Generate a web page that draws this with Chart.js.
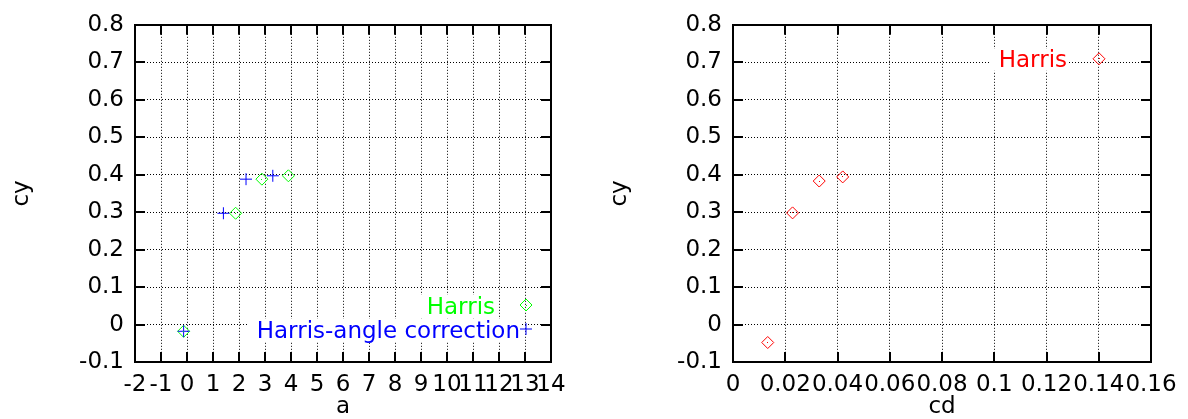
<!DOCTYPE html>
<html>
<head>
<meta charset="utf-8">
<script src="https://cdn.jsdelivr.net/npm/chart.js@4.4.0/dist/chart.umd.min.js"></script>
<style>
  html, body { margin: 0; padding: 0; background: #fff; }
  #wrap { position: relative; width: 1188px; height: 419px; }
  canvas { position: absolute; top: 0; }
  #left { left: 0; }
  #right { left: 594px; }
</style>
</head>
<body>
<div id="wrap">
  <canvas id="left" width="594" height="419"></canvas>
  <canvas id="right" width="594" height="419"></canvas>
</div>
<script>
// Measured points: cy against a (two detectors) and cy against cd
const harrisA     = [-0.13, 1.87, 2.88, 3.90];
const harrisCy    = [-0.018, 0.297, 0.388, 0.397];
const correctedA  = [-0.13, 1.40, 2.27, 3.30];
const correctedCy = [-0.018, 0.297, 0.388, 0.397];
const harrisCd    = [0.0133, 0.0228, 0.0330, 0.0420];
const harrisCdCy  = [-0.048, 0.298, 0.383, 0.394];

// Axis ticks and their printed labels
const aTicks       = [-2, -1, 0, 1, 2, 3, 4, 5, 6, 7, 8, 9, 10, 11, 12, 13, 14];
const aTickLabels  = ['-2', '-1', '0', '1', '2', '3', '4', '5', '6', '7', '8', '9', '10', '11', '12', '13', '14'];
const cyTicks      = [-0.1, 0, 0.1, 0.2, 0.3, 0.4, 0.5, 0.6, 0.7, 0.8];
const cyTickLabels = ['-0.1', '0', '0.1', '0.2', '0.3', '0.4', '0.5', '0.6', '0.7', '0.8'];
const cdTicks      = [0, 0.02, 0.04, 0.06, 0.08, 0.1, 0.12, 0.14, 0.16];
const cdTickLabels = ['0', '0.02', '0.04', '0.06', '0.08', '0.1', '0.12', '0.14', '0.16'];

const GREEN = '#00ff00';
const BLUE = '#0000ff';
const RED = '#ff0000';
const FONT = "'DejaVu Sans', sans-serif";
const FONT_SIZE = 23;
const MARK_R = 6;

Chart.defaults.font.family = FONT;
Chart.defaults.font.size = FONT_SIZE;
Chart.defaults.color = '#000';

function toPoints(xs, ys) {
  return xs.map((x, i) => ({ x: x, y: ys[i] }));
}

// Full box frame, inward tick marks on all four sides, centre dots on
// diamond markers, and an in-plot key with samples to the right of the text.
const framePlugin = {
  id: 'frame',
  afterDatasetsDraw(chart) {
    const ctx = chart.ctx;
    ctx.save();
    chart.data.datasets.forEach((ds, i) => {
      if (ds.pointStyle !== 'rectRot') return;
      const meta = chart.getDatasetMeta(i);
      ctx.fillStyle = ds.borderColor;
      meta.data.forEach(el => {
        ctx.fillRect(Math.floor(el.x), Math.floor(el.y), 1, 1);
      });
    });
    ctx.restore();
  },
  afterDraw(chart, args, opts) {
    const { ctx, chartArea: a, scales } = chart;
    const L = 10;
    ctx.save();
    ctx.strokeStyle = '#000';
    ctx.lineWidth = 2;
    ctx.beginPath();
    scales.x.ticks.forEach(t => {
      const px = Math.round(scales.x.getPixelForValue(t.value));
      ctx.moveTo(px, a.bottom); ctx.lineTo(px, a.bottom - L);
      ctx.moveTo(px, a.top); ctx.lineTo(px, a.top + L);
    });
    scales.y.ticks.forEach(t => {
      const py = Math.round(scales.y.getPixelForValue(t.value));
      ctx.moveTo(a.left, py); ctx.lineTo(a.left + L, py);
      ctx.moveTo(a.right, py); ctx.lineTo(a.right - L, py);
    });
    ctx.stroke();
    ctx.strokeRect(Math.round(a.left), Math.round(a.top),
                   Math.round(a.right - a.left), Math.round(a.bottom - a.top));

    // key
    ctx.font = FONT_SIZE + 'px ' + FONT;
    ctx.textAlign = 'right';
    ctx.textBaseline = 'alphabetic';
    (opts.entries || []).forEach(e => {
      const sx = e.anchorX === 'right' ? a.right - e.sx : a.left + e.sx;
      const sy = e.anchorY === 'bottom' ? a.bottom - e.sy : a.top + e.sy;
      const tx = e.anchorX === 'right' ? a.right - e.tx : a.left + e.tx;
      const w = ctx.measureText(e.text).width;
      ctx.fillStyle = '#fff';
      ctx.fillRect(tx - w - 8, sy - 10, w + 8, 22);
      ctx.fillStyle = e.color;
      ctx.fillText(e.text, tx, sy + 8.5);
      ctx.strokeStyle = e.color;
      ctx.lineWidth = 1;
      ctx.beginPath();
      const r = MARK_R;
      if (e.style === 'rectRot') {
        ctx.moveTo(sx - r, sy); ctx.lineTo(sx, sy - r);
        ctx.lineTo(sx + r, sy); ctx.lineTo(sx, sy + r);
        ctx.closePath();
        ctx.stroke();
        ctx.fillRect(Math.floor(sx), Math.floor(sy), 1, 1);
      } else {
        ctx.moveTo(sx - r, sy); ctx.lineTo(sx + r, sy);
        ctx.moveTo(sx, sy - r); ctx.lineTo(sx, sy + r);
        ctx.stroke();
      }
    });
    ctx.restore();
  }
};

function axis(opts) {
  const ticksList = opts.ticks;
  const labels = opts.labels;
  return {
    type: 'linear',
    position: opts.position,
    min: opts.min,
    max: opts.max,
    afterBuildTicks: s => { s.ticks = ticksList.map(v => ({ value: v })); },
    afterFit: opts.afterFit,
    ticks: {
      padding: opts.pad,
      autoSkip: false,
      minRotation: 0,
      maxRotation: 0,
      color: '#000',
      callback: (v, i) => labels[i]
    },
    grid: { color: '#000', lineWidth: 1, drawTicks: false },
    border: { display: false, dash: [1, 2] },
    title: {
      display: true,
      text: opts.title,
      color: '#000',
      padding: opts.titlePad
    }
  };
}

function baseOptions(xAxis, yAxis, padRight, entries) {
  return {
    responsive: false,
    animation: false,
    devicePixelRatio: 1,
    layout: { padding: { left: 0, right: padRight, top: 20, bottom: 0 } },
    plugins: {
      legend: { display: false },
      tooltip: { enabled: false },
      frame: { entries: entries }
    },
    scales: { x: xAxis, y: yAxis }
  };
}

// cy versus a
new Chart(document.getElementById('left'), {
  type: 'scatter',
  data: {
    datasets: [
      {
        label: 'Harris',
        data: toPoints(harrisA, harrisCy),
        pointStyle: 'rectRot',
        pointRadius: MARK_R,
        borderColor: GREEN,
        backgroundColor: 'rgba(0,0,0,0)',
        borderWidth: 1,
        order: 1
      },
      {
        label: 'Harris-angle correction',
        data: toPoints(correctedA, correctedCy),
        pointStyle: 'cross',
        pointRadius: MARK_R,
        borderColor: BLUE,
        backgroundColor: BLUE,
        borderWidth: 1,
        order: 0
      }
    ]
  },
  options: baseOptions(
    axis({ position: 'bottom', min: -2, max: 14, ticks: aTicks, labels: aTickLabels,
           pad: 9, title: 'a', titlePad: { top: 0, bottom: -2 },
           afterFit: s => { s.height = 57; } }),
    axis({ position: 'left', min: -0.1, max: 0.8, ticks: cyTicks, labels: cyTickLabels,
           pad: 11, title: 'cy', titlePad: { top: 8, bottom: 0 },
           afterFit: s => { s.width = 135; } }),
    43,
    [
      { text: 'Harris', color: GREEN, style: 'rectRot', anchorX: 'right', anchorY: 'bottom', sx: 25, sy: 57, tx: 56 },
      { text: 'Harris-angle correction', color: BLUE, style: 'cross', anchorX: 'right', anchorY: 'bottom', sx: 25, sy: 33, tx: 31 }
    ]
  ),
  plugins: [framePlugin]
});

// cy versus cd
new Chart(document.getElementById('right'), {
  type: 'scatter',
  data: {
    datasets: [
      {
        label: 'Harris',
        data: toPoints(harrisCd, harrisCdCy),
        pointStyle: 'rectRot',
        pointRadius: MARK_R,
        borderColor: RED,
        backgroundColor: 'rgba(0,0,0,0)',
        borderWidth: 1
      }
    ]
  },
  options: baseOptions(
    axis({ position: 'bottom', min: 0, max: 0.16, ticks: cdTicks, labels: cdTickLabels,
           pad: 9, title: 'cd', titlePad: { top: 0, bottom: -2 },
           afterFit: s => { s.height = 57; } }),
    axis({ position: 'left', min: -0.1, max: 0.8, ticks: cyTicks, labels: cyTickLabels,
           pad: 11, title: 'cy', titlePad: { top: 12, bottom: 0 },
           afterFit: s => { s.width = 139; } }),
    37,
    [
      { text: 'Harris', color: RED, style: 'rectRot', anchorX: 'right', anchorY: 'top', sx: 52, sy: 34, tx: 84 }
    ]
  ),
  plugins: [framePlugin]
});
</script>
</body>
</html>
